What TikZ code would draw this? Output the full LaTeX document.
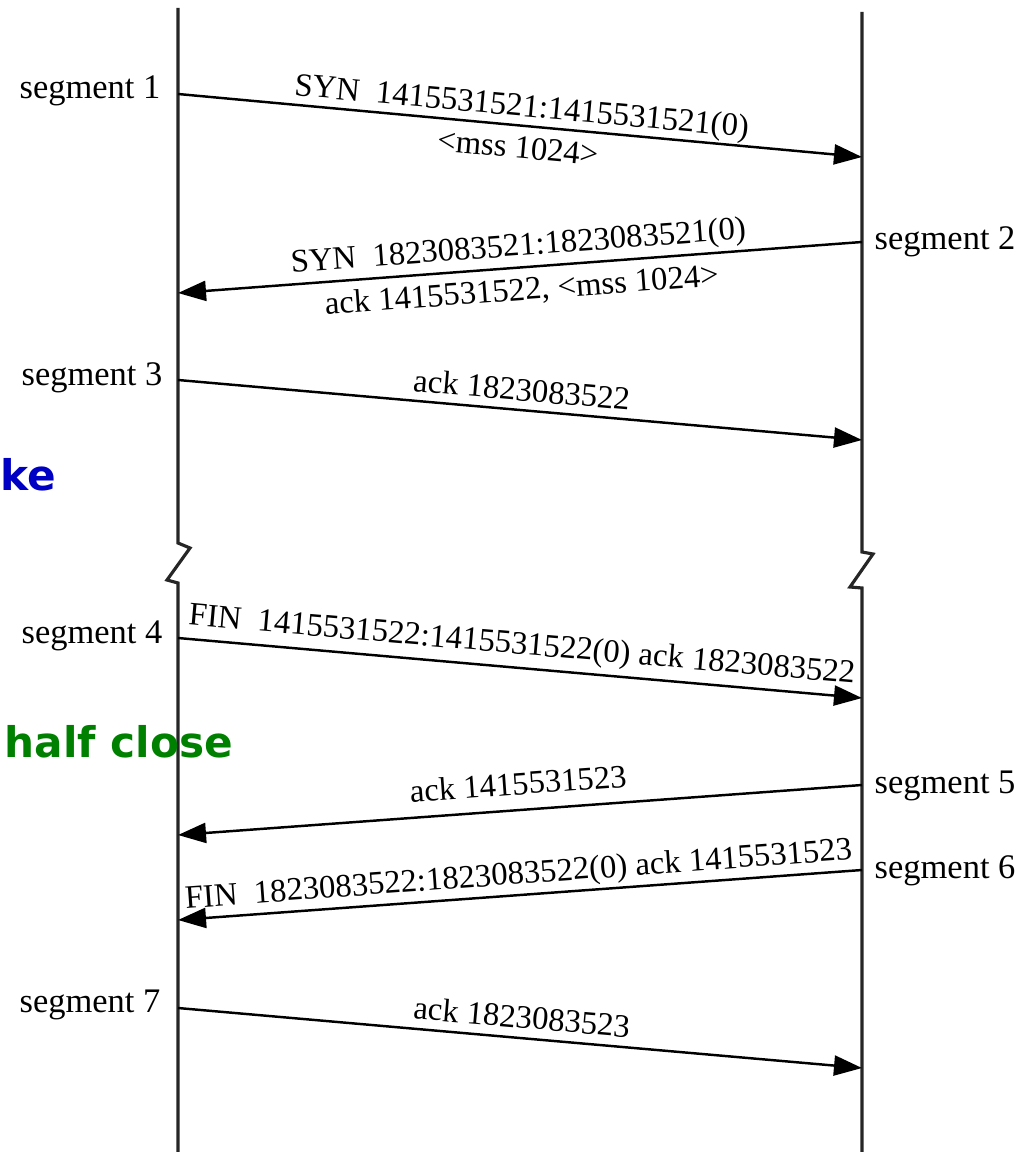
\documentclass[tikz,border=0pt]{standalone}
\usepackage{fontspec}
\setmainfont{Liberation Serif}
\newfontfamily\phasefont{DejaVu Sans}
\usetikzlibrary{arrows.meta, positioning}
\definecolor{phaseblue}{RGB}{0, 0, 196}
\definecolor{phasegreen}{RGB}{0, 128, 0}

\begin{document}
\begin{tikzpicture}[x=0.01cm, y=-0.01cm,
    timeline/.style={line width=0.9pt, black!85},
    segarrow/.style={line width=0.7pt, -{Triangle[length=2.8mm, width=2mm]}},
    msg/.style={font=\fontsize{9.3}{11}\selectfont, inner sep=0pt, text depth=0pt, sloped},
    seglabel/.style={font=\fontsize{9.8}{12}\selectfont, inner sep=0pt},
    phase/.style={font=\phasefont\bfseries\fontsize{12}{14}\selectfont, inner sep=0pt, anchor=base west}]
    \useasboundingbox (0,0) rectangle (1029,1152);

    % the two time lines, broken in the middle
    \draw[timeline] (178,8) -- (178,543) -- (190,548) -- (167,580) -- (178,583) -- (178,1152);
    \draw[timeline] (862,12) -- (862,552) -- (873,554) -- (850,587) -- (862,588) -- (862,1152);

    % ends of the segments
    \coordinate (cli1) at (178,94);   \coordinate (srv1) at (862,157);
    \coordinate (srv2) at (862,242);  \coordinate (cli2) at (178,293);
    \coordinate (cli3) at (178,380);  \coordinate (srv3) at (862,440);
    \coordinate (cli4) at (178,638);  \coordinate (srv4) at (862,698);
    \coordinate (srv5) at (862,785);  \coordinate (cli5) at (178,835);
    \coordinate (srv6) at (862,870);  \coordinate (cli6) at (178,920);
    \coordinate (cli7) at (178,1008); \coordinate (srv7) at (862,1068);

    \draw[segarrow] (cli1) -- node[msg, above=2.3pt] {SYN~~1415531521:1415531521(0)}
                               node[msg, below=2.8pt] {<mss 1024>} (srv1);
    \draw[segarrow] (srv2) -- node[msg, above=3pt] {SYN~~1823083521:1823083521(0)}
                               node[msg, below=2.5pt] {ack 1415531522, <mss 1024>} (cli2);
    \draw[segarrow] (cli3) -- node[msg, above=2.3pt] {ack 1823083522} (srv3);
    \draw[segarrow] (cli4) -- node[msg, above=3.6pt] {FIN~~1415531522:1415531522(0) ack 1823083522} (srv4);
    \draw[segarrow] (srv5) -- node[msg, above=4pt] {ack 1415531523} (cli5);
    \draw[segarrow] (srv6) -- node[msg, above=2.8pt] {FIN~~1823083522:1823083522(0) ack 1415531523} (cli6);
    \draw[segarrow] (cli7) -- node[msg, above=2.5pt] {ack 1823083523} (srv7);

    % segment names
    \node[seglabel, anchor=base east] (seg1) at ([shift={(-17,5)}]cli1) {segment 1};
    \node[seglabel, anchor=base west] (seg2) at ([shift={(12,8)}]srv2) {segment 2};
    \node[seglabel, anchor=base east] (seg3) at ([shift={(-15,5)}]cli3) {segment 3};
    \node[seglabel, anchor=base east] (seg4) at ([shift={(-15,5)}]cli4) {segment 4};
    \node[seglabel, anchor=base west] (seg5) at ([shift={(12,8)}]srv5) {segment 5};
    \node[seglabel, anchor=base west] (seg6) at ([shift={(12,8)}]srv6) {segment 6};
    \node[seglabel, anchor=base east] (seg7) at ([shift={(-17,4)}]cli7) {segment 7};

    \node[phase, text=phaseblue] (hand) at (0,490) {ke};
    \node[phase, text=phasegreen] (half) at (4,757) {half close};
\end{tikzpicture}
\end{document}
